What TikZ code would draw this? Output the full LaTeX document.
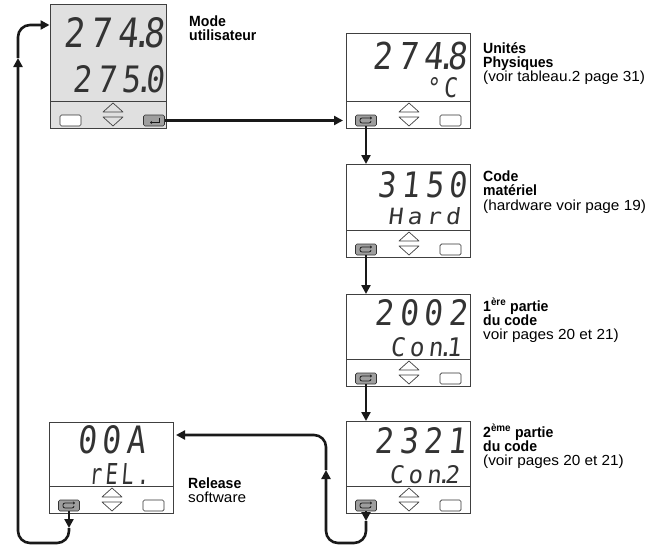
\documentclass[tikz,border=0pt]{standalone}
\usepackage{graphicx}
\usepackage{fontspec}
\setmainfont{Liberation Sans}
\newfontfamily\lcdfont[FakeSlant=0.12,LetterSpace=18]{DejaVu Sans Mono}
\newfontfamily\labb[FakeStretch=0.95]{Liberation Sans}
\newfontfamily\labr[FakeStretch=1.05]{Liberation Sans}
\usetikzlibrary{arrows.meta,calc}
\newcommand\dt{\kern-0.2em.\kern-0.26em}
\newcommand\lcd[3]{\resizebox{#1pt}{#2pt}{\lcdfont #3}}
\newcommand\panelparts[1]{%
  \draw[box] ($(#1.south west)+(0,-27)$) -- ($(#1.south east)+(0,-27)$);
  \draw[arr] ($(#1.south west)+(53,-16)$) -- ++(10,-9) -- ++(10,9) -- cycle;
  \draw[arr] ($(#1.south west)+(53,-11)$) -- ++(10,9) -- ++(10,-9) -- cycle;
}
\newcommand\loopsym[1]{%
  \draw[line width=0.8pt,black!90,rounded corners=2pt,-{Stealth[length=2pt,width=3pt]}]
    ($(#1.center)+(5,0.5)$) -- ++(0,2) -- ++(-11,0) -- ++(0,-5) -- ++(12,0);
}
\begin{document}
\begin{tikzpicture}[x=1pt,y=-1pt,
  box/.style={draw=black!75,line width=0.8pt,inner sep=0pt,outer sep=0pt},
  keyb/.style={draw=black!80,line width=0.7pt,rounded corners=1.5pt,minimum width=21pt,minimum height=11pt,inner sep=0pt,outer sep=0pt},
  keyd/.style={keyb,fill=black!38},
  keyw/.style={keyb,fill=white},
  arr/.style={draw=black!75,line width=0.7pt,line join=round},
  lcdt/.style={inner sep=0pt,outer sep=0pt,text=black!80},
  lb/.style={inner sep=0pt,anchor=base west,font=\labb\bfseries\fontsize{14.8}{14.8}\selectfont},
  lr/.style={inner sep=0pt,anchor=base west,font=\labr\fontsize{14.6}{14.6}\selectfont},
  conn/.style={line width=2.6pt,draw=black!90},
  arrowed/.style={-{Triangle[length=9pt,width=9pt]}},
  roundpath/.style={rounded corners=12pt}]
\useasboundingbox (0,0) rectangle (654,546);

% devices
\node[box,fill=black!12,minimum width=116pt,minimum height=124pt] (dev1) at (108,66) {};
\node[box,fill=white,minimum width=124pt,minimum height=95pt] (dev2) at (408,80.5) {};
\node[box,fill=white,minimum width=124pt,minimum height=93pt] (dev3) at (408,210.5) {};
\node[box,fill=white,minimum width=124pt,minimum height=92pt] (dev4) at (408,340) {};
\node[box,fill=white,minimum width=124pt,minimum height=92pt] (dev5) at (408,467) {};
\node[box,fill=white,minimum width=124pt,minimum height=91pt] (dev6) at (111,467.5) {};

\panelparts{dev1}
\panelparts{dev2}
\panelparts{dev3}
\panelparts{dev4}
\panelparts{dev5}
\panelparts{dev6}

% keys
\node[keyw] (l1) at ($(dev1.south west)+(20.5,-7.5)$) {};
\node[keyd] (k1) at ($(dev1.south west)+(104,-7.5)$) {};
\draw[line width=0.8pt,black!90,-{Stealth[length=2pt,width=3pt]}] ($(k1.center)+(5,-3)$) -- ++(0,5) -- ++(-9,0);
\foreach \d/\k/\r in {dev2/k2/r2,dev3/k3/r3,dev4/k4/r4,dev5/k5/r5,dev6/k6/r6}{
  \node[keyd] (\k) at ($(\d.south west)+(20,-7.5)$) {};
  \node[keyw] (\r) at ($(\d.south west)+(104.5,-7.5)$) {};
  \loopsym{\k}
}

% display texts
\node[lcdt,anchor=base east] (d1a) at (164,48) {\lcd{100}{30}{274\dt 8}};
\node[lcdt,anchor=base east] (d1b) at (164,92) {\lcd{91}{27}{275\dt 0}};
\node[lcdt,anchor=base east] (d2a) at (467,69.5) {\lcd{94}{27.5}{274\dt 8}};
\node[lcdt,anchor=base east] (d2b) at (457,97.5) {\lcd{31}{20}{°C}};
\node[lcdt,anchor=base east] (d3a) at (467,197) {\lcd{89}{26}{3150}};
\node[lcdt,anchor=base east] (d3b) at (460,224) {\lcd{72}{17}{Hard}};
\node[lcdt,anchor=base east] (d4a) at (467,325) {\lcd{92}{26}{2002}};
\node[lcdt,anchor=base east] (d4b) at (461,356) {\lcd{71}{19}{Con\dt 1}};
\node[lcdt,anchor=base east] (d5a) at (466,453) {\lcd{91}{26}{2321}};
\node[lcdt,anchor=base east] (d5b) at (459,483) {\lcd{70}{18}{Con\dt 2}};
\node[lcdt,anchor=base west] (d6a) at (77,453) {\lcd{68}{28}{00A}};
\node[lcdt,anchor=base west] (d6b) at (89,484) {\lcd{60}{21}{rEL.}};

% labels
\node[lb] (m1) at (189,26.5) {Mode};
\node[lb] (m2) at (189,40.5) {utilisateur};
\node[lb] (u1) at (483,53.3) {Unités};
\node[lb] (u2) at (483,67.3) {Physiques};
\node[lr] (u3) at (483,81) {(voir tableau.2 page 31)};
\node[lb] (c1) at (483,181.7) {Code};
\node[lb] (c2) at (483,195.7) {matériel};
\node[lr] (c3) at (483,210) {(hardware voir page 19)};
\node[lb] (p1) at (483,311) {1\textsuperscript{ère} partie};
\node[lb] (p2) at (483,325.3) {du code};
\node[lr] (p3) at (483,339) {voir pages 20 et 21)};
\node[lb] (q1) at (483,437) {2\textsuperscript{ème} partie};
\node[lb] (q2) at (483,451.3) {du code};
\node[lr] (q3) at (483,465) {(voir pages 20 et 21)};
\node[lb] (s1) at (188,488.5) {Release};
\node[lr] (s2) at (188,502.5) {software};

% connectors
\draw[conn,arrowed,shorten >=3pt] (k1.east) -- (k1.east -| dev2.west);
\draw[conn,arrowed] (k2.south) -- (k2.south |- dev3.north);
\draw[conn,arrowed] (k3.south) -- (k3.south |- dev4.north);
\draw[conn,arrowed] (k4.south) -- (k4.south |- dev5.north);

\coordinate (m5a) at (366,521);
\coordinate (b5r) at (366,543);
\coordinate (b5l) at (326,543);
\coordinate (m5b) at (326,470);
\coordinate (t5) at (326,435);
\coordinate (e6) at (176,435);
\draw[conn,arrowed] (k5.south) -- (m5a);
\draw[conn,arrowed,roundpath] (m5a) -- (b5r) -- (b5l) -- (m5b);
\draw[conn,arrowed,roundpath] (m5b) -- (t5) -- (e6);

\coordinate (m6a) at (69,528);
\coordinate (b6r) at (69,543);
\coordinate (b6l) at (18,543);
\coordinate (m6b) at (18,58);
\coordinate (t6) at (18,25);
\coordinate (e1) at (49.5,25);
\draw[conn,arrowed] (k6.south) -- (m6a);
\draw[conn,arrowed,roundpath] (m6a) -- (b6r) -- (b6l) -- (m6b);
\draw[conn,arrowed,roundpath] (m6b) -- (t6) -- (e1);
\end{tikzpicture}
\end{document}
